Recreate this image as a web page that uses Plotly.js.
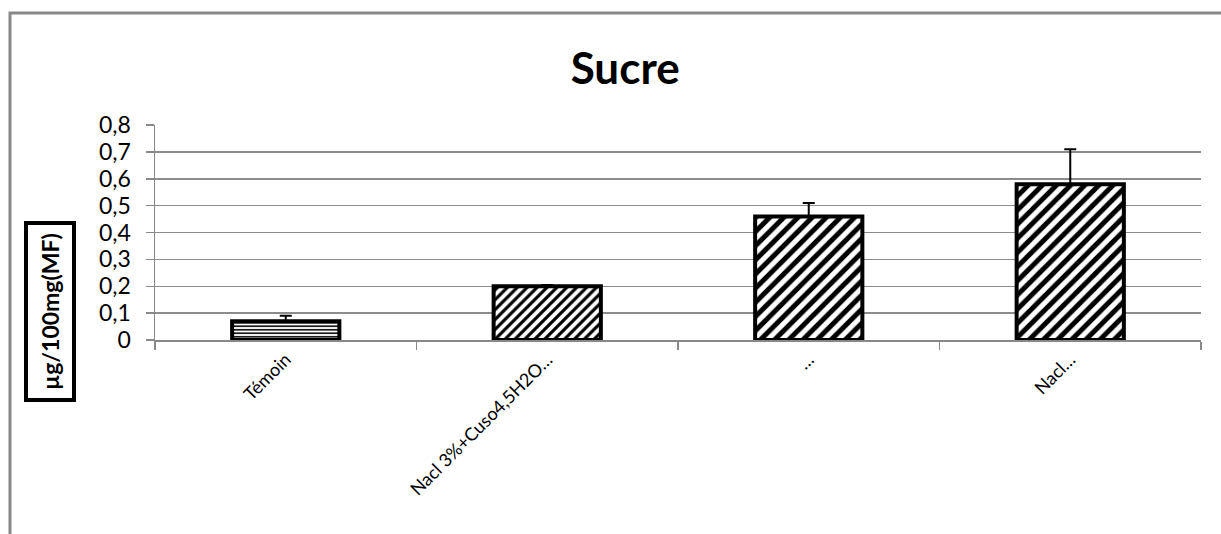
<!DOCTYPE html>
<html>
<head>
<meta charset="utf-8">
<script src="https://cdn.plot.ly/plotly-3.0.1.min.js"></script>
<style>html,body{margin:0;padding:0;background:#fff;}#chart{width:1221px;height:534px;}</style>
</head>
<body>
<div id="chart"></div>
<script>
var categories = ["Témoin", "Nacl 3%+Cuso4,5H2O…", "…", "Nacl…"];
var values = [0.07, 0.20, 0.46, 0.58];
var errorsPlus = [0.02, 0.005, 0.05, 0.13];
var errorsMinus = [0, 0, 0, 0];
var yTickVals = [0, 0.1, 0.2, 0.3, 0.4, 0.5, 0.6, 0.7, 0.8];
var yTickText = ["0", "0,1", "0,2", "0,3", "0,4", "0,5", "0,6", "0,7", "0,8"];
var chartTitle = "Sucre";
var yTitle = "µg/100mg(MF)";

var fontFam = "Lato, 'Liberation Sans', sans-serif";

var trace = {
  type: "bar",
  x: categories,
  y: values,
  marker: {
    color: "#ffffff",
    line: {color: "#000000", width: 4},
    pattern: {
      shape: ["-", "/", "/", "/"],
      size: [3.5, 7, 10, 10],
      solidity: [0.45, 0.45, 0.5, 0.5],
      fgcolor: "#000000",
      bgcolor: "#ffffff",
      fillmode: "replace"
    }
  },
  error_y: {
    type: "data",
    symmetric: false,
    array: errorsPlus,
    arrayminus: errorsMinus,
    color: "#000000",
    thickness: 2,
    width: 6
  },
  hoverinfo: "x+y"
};

var W = 1221, H = 534, L = 155, R = 20, T = 125, B = 194;
var pw = W - L - R, ph = H - T - B;
function px2x(p){ return (p - L) / pw; }
function py2y(p){ return (H - B - p) / ph; }

var layout = {
  width: W, height: H,
  margin: {l: L, r: R, t: T, b: B},
  paper_bgcolor: "#ffffff",
  plot_bgcolor: "#ffffff",
  showlegend: false,
  bargap: 0.59,
  font: {family: fontFam, color: "#000000"},
  title: {
    text: "<b>" + chartTitle + "</b>",
    font: {family: fontFam, size: 44, color: "#000000"},
    xref: "container", x: 0.512, xanchor: "center",
    yref: "container", y: 1 - 69/534, yanchor: "middle"
  },
  xaxis: {
    type: "category",
    tickangle: -45,
    tickfont: {family: fontFam, size: 18, color: "#000000"},
    ticks: "outside",
    tickson: "boundaries",
    ticklen: 8,
    tickcolor: "#888888",
    tickwidth: 1.5,
    showline: true,
    linecolor: "#888888",
    linewidth: 2,
    showgrid: false,
    zeroline: false
  },
  yaxis: {
    range: [0, 0.8],
    tickvals: yTickVals,
    ticktext: yTickText,
    tickfont: {family: fontFam, size: 23, color: "#000000"},
    ticks: "outside",
    ticklen: 8,
    tickcolor: "#888888",
    tickwidth: 1.5,
    ticklabelstandoff: 10,
    showline: true,
    linecolor: "#888888",
    linewidth: 1.5,
    showgrid: true,
    gridcolor: "#8c8c8c",
    gridwidth: 1.5,
    zeroline: false
  },
  annotations: [{
    text: "<b>" + yTitle + "</b>",
    xref: "paper", yref: "paper",
    x: px2x(50), y: py2y(312),
    xanchor: "center", yanchor: "middle",
    showarrow: false,
    textangle: -90,
    font: {family: fontFam, size: 23, color: "#000000"},
    bordercolor: "#000000",
    borderwidth: 4,
    borderpad: 8,
    bgcolor: "#ffffff"
  }],
  shapes: [{
    type: "path",
    xref: "paper", yref: "paper",
    path: "M " + px2x(10) + " " + py2y(540) + " L " + px2x(10) + " " + py2y(13) + " L " + px2x(1225) + " " + py2y(13),
    line: {color: "#888888", width: 3}
  }]
};

Plotly.newPlot("chart", [trace], layout, {displayModeBar: false, staticPlot: true});
</script>
</body>
</html>
